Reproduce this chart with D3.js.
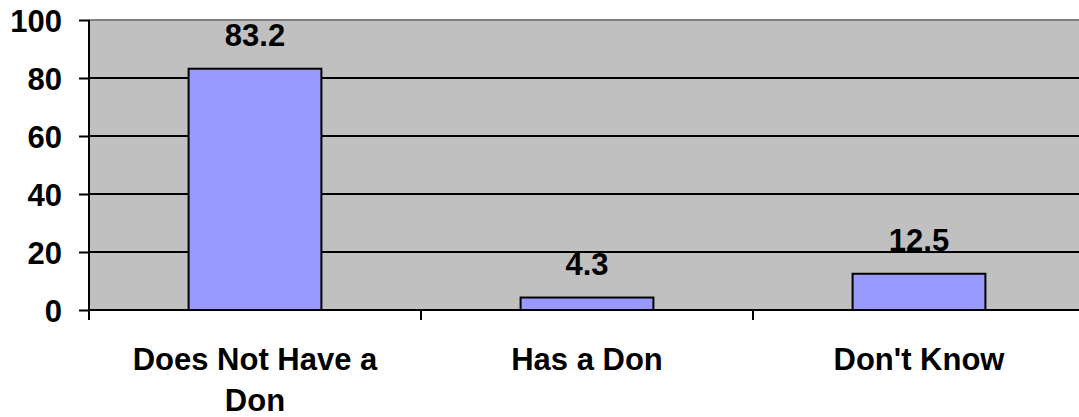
<!DOCTYPE html>
<html>
<head>
<meta charset="utf-8">
<script src="https://cdn.jsdelivr.net/npm/d3@7"></script>
<style>
  body { margin: 0; background: #fff; }
  text { font-family: "Liberation Sans", Arial, sans-serif; font-weight: bold; fill: #000; }
</style>
</head>
<body>
<div id="chart"></div>
<script>
const width = 1079;
const height = 417;

const categories = ['Does Not Have a Don', 'Has a Don', "Don't Know"];
const values = [83.2, 4.3, 12.5];
const yTicks = [0, 20, 40, 60, 80, 100];
// label lines as Excel wrapped them
const catLines = [['Does Not Have a', 'Don'], ['Has a Don'], ["Don't Know"]];

const plot = { left: 89, top: 20, right: 1085, bottom: 310 };
const fontSize = '31px';

const svg = d3.select('#chart')
    .append('svg')
    .attr('width', width)
    .attr('height', height);

const x = d3.scaleBand()
    .domain(categories)
    .range([plot.left, plot.right])
    .paddingInner(0.6)
    .paddingOuter(0.3);

const band = d3.scaleBand()
    .domain(categories)
    .range([plot.left, plot.right]);

const y = d3.scaleLinear()
    .domain([0, 100])
    .range([plot.bottom, plot.top]);

// plot area
svg.append('rect')
    .attr('x', plot.left)
    .attr('y', plot.top)
    .attr('width', plot.right - plot.left)
    .attr('height', plot.bottom - plot.top)
    .attr('fill', '#c0c0c0');

svg.append('line')
    .attr('x1', plot.left).attr('x2', plot.right)
    .attr('y1', plot.top).attr('y2', plot.top)
    .attr('stroke', '#808080')
    .attr('stroke-width', 2);

// gridlines
svg.selectAll('.grid')
    .data(yTicks.filter(d => d > 0 && d < 100))
    .enter()
    .append('line')
    .attr('x1', plot.left).attr('x2', plot.right)
    .attr('y1', d => y(d)).attr('y2', d => y(d))
    .attr('stroke', '#000')
    .attr('stroke-width', 2);

// y axis
const yAxis = svg.append('g')
    .attr('transform', `translate(${plot.left},0)`)
    .call(d3.axisLeft(y).tickValues(yTicks).tickSize(10).tickPadding(17));
yAxis.select('.domain').attr('stroke-width', 2).attr('d', `M0,${plot.top}V${plot.bottom + 10}`);
yAxis.selectAll('.tick line').attr('stroke-width', 2);
yAxis.selectAll('.tick text')
    .style('font-size', fontSize)
    .attr('dy', '0.36em');

// bars
svg.selectAll('.bar')
    .data(values)
    .enter()
    .append('rect')
    .attr('x', (d, i) => x(categories[i]))
    .attr('y', d => y(d))
    .attr('width', x.bandwidth())
    .attr('height', d => y(0) - y(d))
    .attr('fill', '#9999ff')
    .attr('stroke', '#000')
    .attr('stroke-width', 2);

// x axis
svg.append('line')
    .attr('x1', plot.left).attr('x2', plot.right)
    .attr('y1', plot.bottom).attr('y2', plot.bottom)
    .attr('stroke', '#000')
    .attr('stroke-width', 2);

svg.selectAll('.xtick')
    .data(categories)
    .enter()
    .append('line')
    .attr('x1', d => band(d) + band.bandwidth())
    .attr('x2', d => band(d) + band.bandwidth())
    .attr('y1', plot.bottom)
    .attr('y2', plot.bottom + 10)
    .attr('stroke', '#000')
    .attr('stroke-width', 2);

// value labels
svg.selectAll('.val')
    .data(values)
    .enter()
    .append('text')
    .attr('x', (d, i) => x(categories[i]) + x.bandwidth() / 2)
    .attr('y', d => y(d) - 23)
    .attr('text-anchor', 'middle')
    .style('font-size', fontSize)
    .text(d => d);

// category labels
const cat = svg.selectAll('.cat')
    .data(categories)
    .enter()
    .append('text')
    .attr('text-anchor', 'middle')
    .style('font-size', fontSize);

cat.selectAll('tspan')
    .data((d, i) => catLines[i].map(t => ({ t, c: d })))
    .enter()
    .append('tspan')
    .attr('x', d => band(d.c) + band.bandwidth() / 2)
    .attr('y', (d, j) => 370 + j * 41)
    .text(d => d.t);
</script>
</body>
</html>
